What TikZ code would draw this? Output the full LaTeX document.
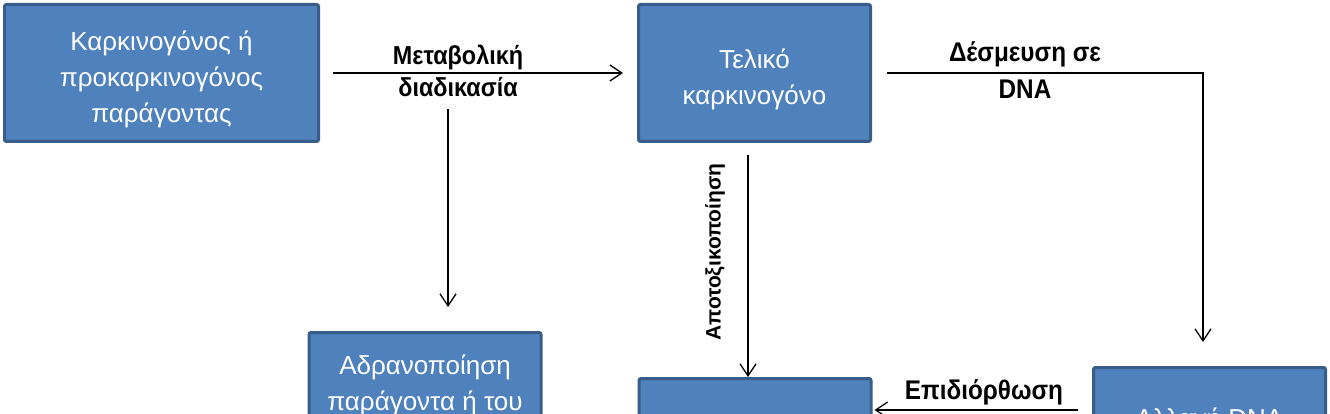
\documentclass[tikz,border=0pt]{standalone}
\usepackage{fontspec}
\setmainfont{Liberation Sans}
\newfontfamily\narrowfont[FakeStretch=0.9]{Liberation Sans}
\usetikzlibrary{arrows.meta,positioning}
\definecolor{boxfill}{HTML}{4F81BD}
\definecolor{boxborder}{HTML}{385D8A}
\newcommand\boxtop{\rule{0pt}{32pt}}
\tikzset
{
    box/.style       = {rectangle, draw=boxborder, fill=boxfill, line width=3pt, rounded corners=2pt, minimum width=232pt, minimum height=137pt, align=center, text=white, font=\fontsize{26}{36}\selectfont},
    steplabel/.style = {align=center, inner sep=0pt, font=\narrowfont\bfseries\fontsize{26}{32}\selectfont},
    arrow/.style     = {line width=1.3pt, -{Straight Barb[length=12pt, width=16pt]}}
}

\begin{document}
\begin{tikzpicture}[x=1pt, y=-1pt]
	 \newcommand\BOXDX{593}
	 \newcommand\BOXDY{374}

	 \useasboundingbox (0, 0) rectangle (1330, 414);
	 \clip (0, 0) rectangle (1330, 414);

   \node (carc)   [box, minimum width=314pt]  at (161.5, 73)                         {\boxtop Καρκινογόνος ή\\προκαρκινογόνος\\παράγοντας};
	 \node (final)  [box]                       at ([shift=({ \BOXDX, 0})]carc)       {\boxtop Τελικό\\καρκινογόνο};
	 \node (inact)  [box]                       at ([shift=({-329.5, 328})]final)     {Αδρανοποίηση\\παράγοντα ή του\\\mbox{}};
	 \node (detox)  [box]                       at ([shift=({ 0.5, \BOXDY})]final)    {};
	 \node (alt)    [box]                       at ([shift=({ 455, 363})]final)       {Αλλαγή DNA\\\mbox{}};

	 \node (metab)  [steplabel]                 at (458, 71)                          {Μεταβολική\\διαδικασία};
	 \node (bind)   [steplabel, font=\narrowfont\bfseries\fontsize{27}{37}\selectfont] at (1025, 70) {Δέσμευση σε\\DNA};
	 \node (detlbl) [steplabel, rotate=90, font=\bfseries\fontsize{21}{24}\selectfont] at (715, 252) {Αποτοξικοποίηση};
	 \node (repair) [steplabel, font=\narrowfont\bfseries\fontsize{27}{30}\selectfont] at (984, 392) {Επιδιόρθωση};

	 \coordinate (mdrop) at ([xshift=-10pt]metab.south);

	 \path
	    (carc)                       edge[arrow, shorten <=13pt, shorten >=14pt]  (final)
	    (mdrop)                      edge[arrow, shorten <=12pt, shorten >=24pt]  (mdrop |- inact.north)
	    ([xshift=-6.5pt]final.south) edge[arrow, shorten <=12pt]                  ([xshift=-7pt]detox.north)
	    ([yshift=26pt]alt.west)      edge[arrow, shorten <=14pt, shorten >=2pt]   ([yshift=26pt]alt.west -| detox.east);
	 \draw[arrow, shorten <=15pt, shorten >=24pt] (final.east) -| ([xshift=-6.5pt]alt.north);
\end{tikzpicture}
\end{document}
